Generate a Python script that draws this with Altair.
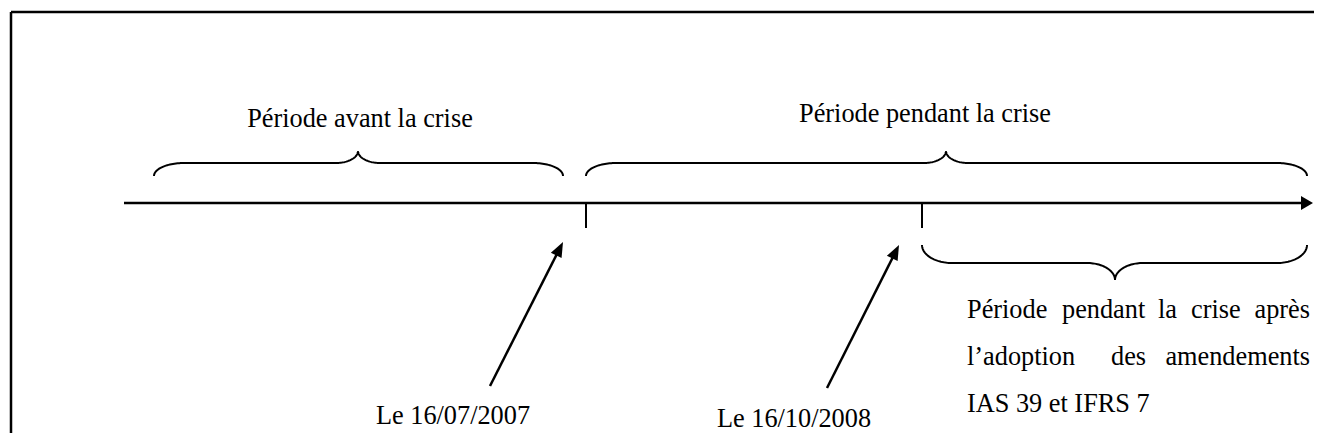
import numpy as np
import pandas as pd
import altair as alt

# ---------------- canvas (pixel-like coordinate system) ----------------
X_MIN, X_MAX = 8, 1314
Y_MIN, Y_MAX = 8, 433
W = X_MAX - X_MIN
H = Y_MAX - Y_MIN

# ---------------- content ----------------
period_labels = ["Période avant la crise", "Période pendant la crise"]
period_label_x = [360, 925]
period_label_y = [127, 122]

date_labels = ["Le 16/07/2007", "Le 16/10/2008"]
date_label_x = [453, 794]
date_label_y = [424, 427]

# event ticks on the timeline
event_x = [586, 922]

# arrows from date labels to the events (base -> tip)
arrow_base = [(490, 386), (827, 388)]
arrow_tip = [(563, 242), (899, 245)]

# braces: start, end, peak x, end y, flat y, peak y, end radius, mid radius
braces = [
    (154, 563, 358, 176, 163, 151, 30, 22),
    (586, 1307, 946, 176, 163, 151, 30, 22),
    (922, 1307, 1115, 245, 263, 280, 30, 28),
]

# justified paragraph (words per line)
para_line1 = ["Période", "pendant", "la", "crise"]
para_line1_x = [967, 1062, 1158, 1191]
para_line1_last = "après"
para_line2 = ["l’adoption", "des"]
para_line2_x = [967, 1111]
para_line2_last = "amendements"
para_line3 = "IAS 39 et IFRS 7"
para_right = 1310
para_y = [318, 365, 412]

timeline_y = 203
timeline_x0 = 124
timeline_tip = 1313

FONT = "Liberation Serif"
FS = 26.3

xs = alt.Scale(domain=[X_MIN, X_MAX], nice=False, zero=False)
ys = alt.Scale(domain=[Y_MIN, Y_MAX], nice=False, zero=False, reverse=True)


def X(f="x"):
    return alt.X(f"{f}:Q", scale=xs, axis=None)


def Y(f="y"):
    return alt.Y(f"{f}:Q", scale=ys, axis=None)


# ---------------- straight segments ----------------
segs = []
# border (top and left)
segs.append(dict(x=11, y=12, x2=1314, y2=12, w=2.5))
segs.append(dict(x=11, y=12, x2=11, y2=433, w=2.5))
# timeline
segs.append(dict(x=timeline_x0, y=timeline_y, x2=timeline_tip - 8, y2=timeline_y, w=2.6))
# event ticks
for ex in event_x:
    segs.append(dict(x=ex, y=timeline_y, x2=ex, y2=228, w=2))
# arrow shafts
heads = []
for (bx, by), (tx, ty) in zip(arrow_base, arrow_tip):
    dx, dy = tx - bx, ty - by
    L = np.hypot(dx, dy)
    ux, uy = dx / L, dy / L
    segs.append(dict(x=bx, y=by, x2=tx - ux * 8, y2=ty - uy * 8, w=2.5))
    ang = np.degrees(np.arctan2(dx, -dy))
    heads.append(dict(x=tx, y=ty, a=ang))
seg_df = pd.DataFrame(segs)

rules = alt.Chart(seg_df).mark_rule(color="black", strokeCap="butt").encode(
    x=X(), y=Y(), x2="x2:Q", y2="y2:Q",
    strokeWidth=alt.StrokeWidth("w:Q", scale=None),
)

# ---------------- arrowheads ----------------
head_df = pd.DataFrame(heads)
diag_heads = alt.Chart(head_df).mark_point(
    shape="M0,0L0.8,2L-0.8,2Z", filled=True, color="black", size=225, opacity=1, strokeWidth=0
).encode(x=X(), y=Y(), angle=alt.Angle("a:Q", scale=None))

axis_head_df = pd.DataFrame([dict(x=timeline_tip, y=timeline_y, a=90)])
axis_head = alt.Chart(axis_head_df).mark_point(
    shape="M0,0L1.15,2L-1.15,2Z", filled=True, color="black", size=144, opacity=1, strokeWidth=0
).encode(x=X(), y=Y(), angle=alt.Angle("a:Q", scale=None))


# ---------------- braces ----------------
def brace_points(x0, x1, xm, y_end, y_flat, y_peak, r_end, r_mid, n=30):
    t = np.linspace(0, np.pi / 2, n)
    px, py = [], []
    px += list(x0 + r_end - r_end * np.cos(t)); py += list(y_end + (y_flat - y_end) * np.sin(t))
    px += list(xm - r_mid + r_mid * np.sin(t)); py += list(y_peak + (y_flat - y_peak) * np.cos(t))
    px += list(xm + r_mid - r_mid * np.cos(t)); py += list(y_peak + (y_flat - y_peak) * np.sin(t))
    px += list(x1 - r_end + r_end * np.sin(t)); py += list(y_end + (y_flat - y_end) * np.cos(t))
    return px, py


rows = []
for bi, b in enumerate(braces):
    px, py = brace_points(*b)
    for i, (a, c) in enumerate(zip(px, py)):
        rows.append(dict(id=bi, i=i, x=a, y=c))
brace_df = pd.DataFrame(rows)
brace_lines = alt.Chart(brace_df).mark_line(color="black", strokeWidth=2).encode(
    x=X(), y=Y(), detail="id:N", order="i:Q"
)

# ---------------- texts ----------------
center_df = pd.DataFrame(
    dict(t=period_labels + date_labels,
         x=period_label_x + date_label_x,
         y=period_label_y + date_label_y)
)
left_df = pd.DataFrame(
    dict(t=para_line1 + para_line2 + [para_line3],
         x=para_line1_x + para_line2_x + [967],
         y=[para_y[0]] * len(para_line1) + [para_y[1]] * len(para_line2) + [para_y[2]])
)
right_df = pd.DataFrame(
    dict(t=[para_line1_last, para_line2_last], x=[para_right, para_right], y=para_y[:2])
)


def texts(df, align):
    return alt.Chart(df).mark_text(
        align=align, baseline="alphabetic", font=FONT, fontSize=FS, color="black"
    ).encode(x=X(), y=Y(), text="t:N")


chart = alt.layer(
    rules, brace_lines, diag_heads, axis_head,
    texts(center_df, "center"), texts(left_df, "left"), texts(right_df, "right"),
).properties(
    width=W, height=H, padding=0, autosize="none", background="white"
).configure_view(stroke=None)

chart.save("out.html", embed_options={"renderer": "svg", "actions": False})
